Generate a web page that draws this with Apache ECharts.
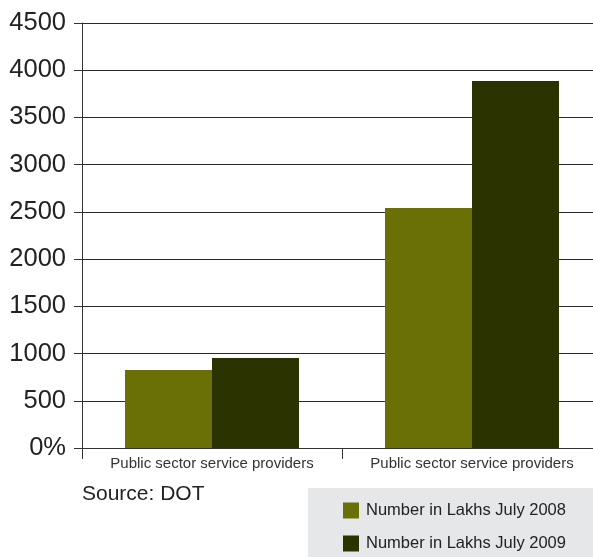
<!DOCTYPE html>
<html><head><meta charset="utf-8">
<script src="https://cdn.jsdelivr.net/npm/echarts@6/dist/echarts.min.js"></script>
<style>html,body{margin:0;padding:0;background:#fff}#c{width:593px;height:557px}</style>
</head><body><div id="c"></div>
<script>
const categories = ["Public sector service providers", "Public sector service providers"];
const series2008 = [826, 2541];
const series2009 = [953, 3886];
const seriesNames = ["Number in Lakhs July 2008", "Number in Lakhs July 2009"];
const yMax = 4500, yStep = 500;

const chart = echarts.init(document.getElementById('c'));
const font = '"Liberation Sans", Arial, sans-serif';
const legendCommon = { orient: 'horizontal', left: 343, itemWidth: 16, itemHeight: 16, icon: 'rect',
  textStyle: { fontSize: 16.5, color: '#222', fontFamily: font, padding: [0, 0, 0, 2] }, padding: 0 };
chart.setOption({
  animation: false,
  textStyle: { fontFamily: font },
  grid: { left: 82, width: 520, top: 23, bottom: 109, containLabel: false, outerBoundsMode: 'none' },
  xAxis: {
    type: 'category', data: categories,
    axisLine: { show: true, lineStyle: { color: '#333', width: 1 } },
    axisTick: { show: true, length: 11, interval: 0, lineStyle: { color: '#333' } },
    axisLabel: { color: '#333', fontSize: 15, margin: 8, interval: 0, hideOverlap: false, fontFamily: font }
  },
  yAxis: {
    type: 'value', min: 0, max: yMax, interval: yStep,
    axisLine: { show: true, lineStyle: { color: '#333', width: 1 } },
    axisTick: { show: true, length: 8, lineStyle: { color: '#333' } },
    splitLine: { show: true, lineStyle: { color: '#2a2a2a', width: 1.2 } },
    axisLabel: { color: '#222', fontSize: 25.5, margin: 16, fontFamily: font,
      formatter: v => v === 0 ? '0%' : String(v) }
  },
  legend: [
    Object.assign({ top: 502, data: [seriesNames[0]] }, legendCommon),
    Object.assign({ top: 535, data: [seriesNames[1]] }, legendCommon)
  ],
  graphic: [
    { type: 'rect', left: 308, top: 488, z: -1, shape: { width: 285, height: 69 }, style: { fill: '#e6e7e8' } },
    { type: 'text', left: 82, top: 484, style: { text: 'Source: DOT', fontSize: 21, fill: '#222', fontFamily: font } }
  ],
  series: [
    { name: seriesNames[0], type: 'bar', data: series2008, barWidth: 87, barGap: '0%', itemStyle: { color: '#6a7006' } },
    { name: seriesNames[1], type: 'bar', data: series2009, barWidth: 87, barGap: '0%', itemStyle: { color: '#2b3400' } }
  ]
});
</script></body></html>
